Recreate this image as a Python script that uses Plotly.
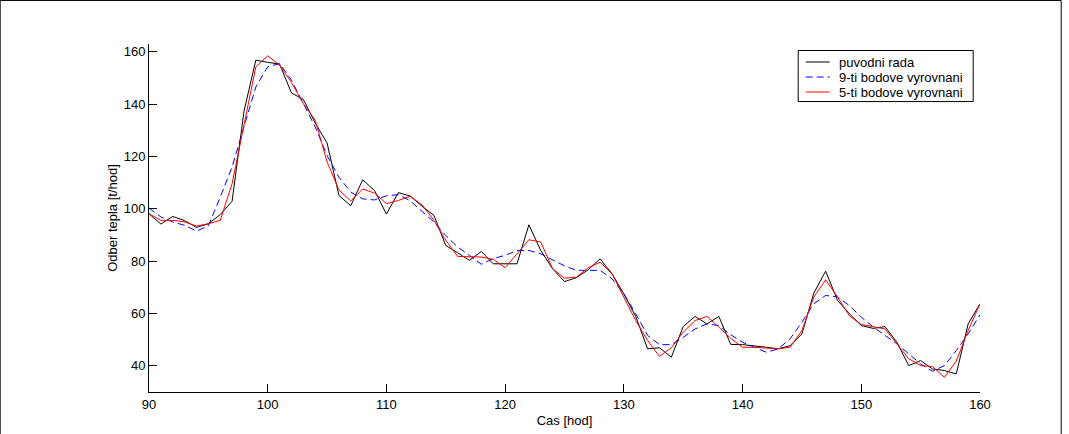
import plotly.graph_objects as go

hours = list(range(90, 161))

puvodni = [98.1, 94.2, 97.1, 95.5, 92.9, 94.3, 97.8, 102.9, 137.3, 156.8,
           156.0, 155.3, 144.3, 141.8, 132.8, 125.2, 105.1, 101.2, 111.1, 107.0,
           98.0, 106.2, 104.9, 101.0, 97.5, 86.0, 83.2, 80.3, 83.7, 79.0,
           79.0, 79.0, 93.9, 84.1, 77.1, 72.2, 73.7, 76.7, 80.9, 75.2,
           67.5, 58.9, 46.5, 46.9, 43.3, 55.0, 58.9, 56.0, 58.9, 48.2,
           48.1, 47.7, 47.1, 46.5, 47.7, 52.2, 67.8, 76.2, 65.0, 59.9,
           55.4, 54.3, 55.0, 49.0, 40.1, 42.0, 38.8, 38.2, 36.9, 56.0,
           63.7]

vyrovnani9 = [100.3, 96.9, 95.0, 93.7, 91.5, 93.5, 104.5, 116.0, 131.3, 146.6,
              154.3, 155.5, 149.2, 140.2, 131.3, 120.4, 112.1, 106.4, 103.8, 103.4,
              105.0, 105.4, 103.1, 99.0, 95.0, 89.8, 85.4, 82.2, 78.8, 81.0,
              82.2, 84.1, 84.1, 82.8, 80.5, 78.2, 76.5, 76.5, 76.5, 73.3,
              67.5, 59.9, 51.6, 48.1, 48.1, 50.9, 54.1, 56.0, 55.4, 51.9,
              49.0, 47.1, 45.2, 46.5, 50.3, 56.7, 63.7, 66.9, 66.3, 63.0,
              58.6, 54.9, 51.6, 48.4, 44.6, 40.7, 37.9, 40.1, 45.8, 52.2,
              59.5]

vyrovnani5 = [98.1, 95.6, 95.6, 95.0, 93.4, 94.3, 95.6, 109.6, 132.0, 154.3,
              158.5, 154.9, 148.3, 140.2, 133.9, 118.0, 107.2, 103.0, 107.6, 106.0,
              102.0, 103.2, 104.8, 101.5, 95.6, 88.0, 81.8, 81.8, 81.6, 80.7,
              77.5, 82.8, 88.2, 87.3, 77.1, 73.5, 73.9, 77.5, 79.6, 75.2,
              66.5, 57.3, 49.7, 43.6, 46.9, 52.9, 57.3, 58.9, 54.8, 50.5,
              47.1, 47.1, 46.8, 46.5, 47.1, 53.5, 66.3, 72.9, 66.3, 59.1,
              55.8, 54.9, 54.1, 48.4, 42.7, 40.1, 39.7, 35.6, 41.8, 53.5,
              63.7]

series_names = ["puvodni rada", "9-ti bodove vyrovnani", "5-ti bodove vyrovnani"]
series_colors = ["#000000", "#0000ff", "#ff0000"]
series_dash = ["solid", "7px,4px", "solid"]

x_ticks = [90, 100, 110, 120, 130, 140, 150, 160]
y_ticks = [40, 60, 80, 100, 120, 140, 160]

FONT = "Liberation Sans, Arial, Helvetica, sans-serif"

fig = go.Figure()
for name, data, col, dash in zip(series_names, [puvodni, vyrovnani9, vyrovnani5],
                                 series_colors, series_dash):
    fig.add_trace(go.Scatter(x=hours, y=data, mode="lines", name=name, showlegend=False,
                             line=dict(color=col, width=1, dash=dash)))

L, R, T, B = 149.3, 88.7, 44, 42.3
W, H = 1069, 434
pw = W - L - R
ph = H - T - B


def px(x):
    return (x - L) / pw


def py(y):
    return (H - B - y) / ph


shapes = [dict(type="rect", xref="paper", yref="paper",
               x0=px(0.5), x1=px(1061.5), y0=py(445), y1=py(0.5),
               line=dict(color="black", width=1), fillcolor="rgba(0,0,0,0)", layer="below")]

# legend box
shapes.append(dict(type="rect", xref="paper", yref="paper",
                   x0=px(798.5), x1=px(973.5), y0=py(101.5), y1=py(50.5),
                   line=dict(color="black", width=1), fillcolor="white", layer="above"))
annotations = []
row_y = [62, 77, 92]
for name, col, dash, ry in zip(series_names, series_colors, series_dash, row_y):
    shapes.append(dict(type="line", xref="paper", yref="paper",
                       x0=px(806), x1=px(830), y0=py(ry), y1=py(ry),
                       line=dict(color=col, width=1, dash=dash), layer="above"))
    annotations.append(dict(text=name, xref="paper", yref="paper", x=px(837), y=py(ry),
                            xanchor="left", yanchor="middle", showarrow=False,
                            font=dict(family=FONT, size=13, color="black")))

fig.update_layout(
    width=W, height=H,
    margin=dict(l=L, r=R, t=T, b=B, pad=0, autoexpand=False),
    paper_bgcolor="white", plot_bgcolor="white",
    font=dict(family=FONT, size=13, color="black"),
    showlegend=False,
    xaxis=dict(range=[90, 160], tickvals=x_ticks, ticktext=[str(v) for v in x_ticks],
               ticks="inside", ticklen=8, tickcolor="black", tickwidth=1,
               showline=True, linecolor="black", linewidth=1, mirror=False,
               showgrid=False, zeroline=False, automargin=False,
               title=dict(text="Cas [hod]", standoff=5, font=dict(size=13))),
    yaxis=dict(range=[30, 163], tickvals=y_ticks, ticktext=[str(v) for v in y_ticks],
               ticks="inside", ticklen=8, tickcolor="black", tickwidth=1,
               showline=True, linecolor="black", linewidth=1, mirror=False,
               showgrid=False, zeroline=False, automargin=False,
               title=dict(text="Odber tepla [t/hod]", standoff=3, font=dict(size=13))),
    shapes=shapes,
    annotations=annotations,
)

fig.write_html("out.html", config={"displayModeBar": False},
               post_script="document.body.style.margin='0';document.body.style.padding='0';"
                           "document.documentElement.style.overflow='hidden';")
